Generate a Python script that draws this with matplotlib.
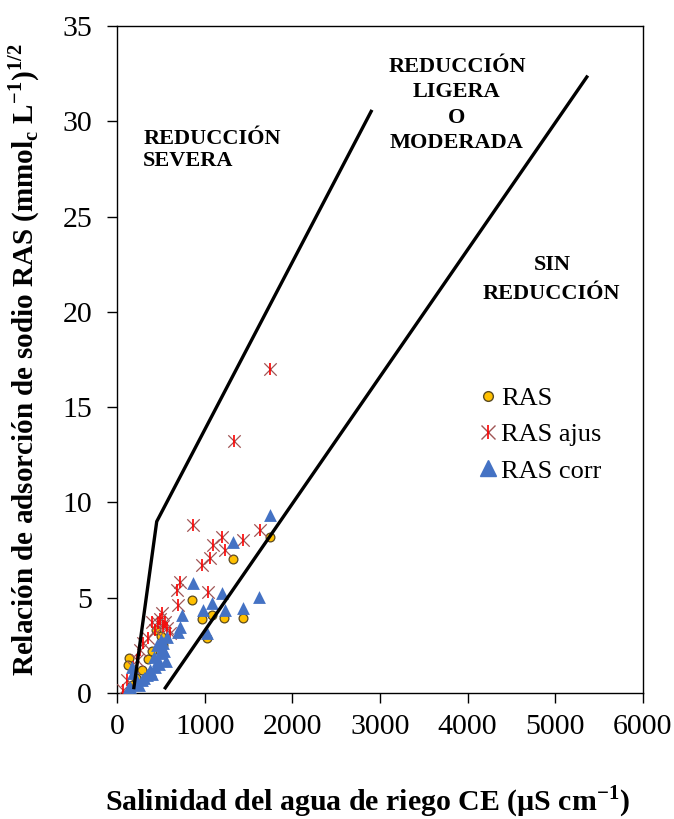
import matplotlib
matplotlib.use("Agg")
import matplotlib.pyplot as plt
from matplotlib.lines import Line2D

# ---------------------------------------------------------------------------
# Data
# ---------------------------------------------------------------------------

# RAS (circles)
ras_x = [141, 129, 170, 220, 280, 350, 400, 450, 500, 520,
         1745, 1327, 859, 966, 1080, 1220, 1433, 1030]
ras_y = [1.82, 1.47, 0.40, 0.80, 1.20, 1.80, 2.20, 3.30, 3.00, 2.50,
         8.20, 7.01, 4.88, 3.87, 4.09, 3.92, 3.92, 2.87]

# RAS ajustado (asterisks)
aj_x = [1745, 1335, 867, 1194, 1441, 1631, 1099, 1232, 1061, 966,
        719, 681, 700, 1041, 510, 396, 471, 547, 567, 604,
        300, 262, 225, 186, 110, 72, 430, 490, 520, 350]
aj_y = [17.0, 13.2, 8.80, 8.20, 8.03, 8.55, 7.77, 7.50, 7.07, 6.72,
        5.84, 5.40, 4.62, 5.32, 4.18, 3.74, 3.66, 3.74, 3.40, 3.15,
        2.60, 2.26, 1.73, 1.38, 0.68, 0.16, 3.30, 3.90, 3.50, 2.90]

# RAS corregido (triangles)
co_x = [1745, 1327, 1194, 870, 1080, 985, 1232, 1441, 1624, 1030,
        738, 719, 700, 567, 529, 510, 490, 471, 433, 376,
        338, 282, 224, 148, 110, 186, 167, 540, 500, 460,
        420, 560, 480, 400, 310, 250, 130]
co_y = [9.34, 7.94, 5.23, 5.75, 4.71, 4.36, 4.36, 4.44, 5.05, 3.13,
        4.09, 3.48, 3.22, 2.96, 2.61, 2.35, 2.08, 1.73, 1.38, 1.21,
        0.94, 0.68, 0.51, 0.33, 0.07, 1.03, 1.38, 2.20, 2.80, 2.50,
        1.90, 1.70, 1.50, 1.00, 0.80, 0.40, 0.20]

# Boundary lines
line1_x = [190, 453, 2908]
line1_y = [0.2, 9.0, 30.6]
line2_x = [540, 5370]
line2_y = [0.2, 32.4]

serif = ["Liberation Serif", "DejaVu Serif"]
plt.rcParams["font.family"] = serif
plt.rcParams["mathtext.fontset"] = "custom"
plt.rcParams["mathtext.rm"] = "Liberation Serif"
plt.rcParams["mathtext.bf"] = "Liberation Serif:bold"

fig = plt.figure(figsize=(6.74, 8.19), dpi=100)
ax = fig.add_axes([0.1736, 0.1538, 0.7804, 0.8144])

ax.plot(line1_x, line1_y, color="black", lw=2.4, solid_capstyle="butt", zorder=4)
ax.plot(line2_x, line2_y, color="black", lw=2.4, solid_capstyle="butt", zorder=4)

ax.scatter(ras_x, ras_y, s=40, marker="o", facecolor="#FFC000",
           edgecolor="#5a4a20", linewidth=0.9, zorder=3)
ax.scatter(aj_x, aj_y, s=80, marker="x", color="#a05555", linewidth=0.9, zorder=3)
ax.scatter(aj_x, aj_y, s=80, marker="|", color="#ff0000", linewidth=1.2, zorder=3)
ax.scatter(co_x, co_y, s=85, marker="^", color="#4472C4", linewidth=0, zorder=3)

ax.set_xlim(0, 6000)
ax.set_ylim(0, 35)
ax.set_xticks(range(0, 6001, 1000))
ax.set_yticks(range(0, 36, 5))
ax.tick_params(direction="out", length=7, width=1, labelsize=21.5)
ax.tick_params(axis="x", pad=8)
ax.tick_params(axis="y", pad=11)
for sp in ax.spines.values():
    sp.set_linewidth(1)

ax.set_xlabel(r"Salinidad del agua de riego CE (µS cm$^{\mathbf{-1}}$)",
              fontsize=21.5, fontweight="bold")
ax.xaxis.set_label_coords(0.477, -0.136)
ax.set_ylabel(r"Relación de adsorción de sodio RAS (mmol$_{\mathbf{c}}$ L$^{\mathbf{-1}}$)$^{\mathbf{1/2}}$",
              fontsize=21, fontweight="bold")
ax.yaxis.set_label_coords(-0.143, 0.50)

ax.text(300, 28.5, "REDUCCIÓN\nSEVERA", fontsize=16, fontweight="bold",
        ha="left", va="center", linespacing=1.15)
ax.text(3877, 30.85, "REDUCCIÓN\nLIGERA\nO\nMODERADA", fontsize=16,
        fontweight="bold", ha="center", va="center", linespacing=1.36)
ax.text(4960, 21.7, "SIN\nREDUCCIÓN", fontsize=16, fontweight="bold",
        ha="center", va="center", linespacing=1.62)

h1 = Line2D([], [], ls="none", marker="o", markersize=7, markerfacecolor="#FFC000",
            markeredgecolor="#5a4a20")
h2a = Line2D([], [], ls="none", marker="x", markersize=10, color="#a05555")
h2b = Line2D([], [], ls="none", marker="|", markersize=10, color="#ff0000",
             markeredgewidth=1.2)
h3 = Line2D([], [], ls="none", marker="^", markersize=11, color="#4472C4")
ax.legend([h1, (h2a, h2b), h3], ["RAS", "RAS ajus", "RAS corr"],
          loc="upper left", bbox_to_anchor=(0.662, 0.475), frameon=False,
          fontsize=19, handletextpad=0.05, handlelength=0.9, labelspacing=0.48,
          borderaxespad=0)

fig.savefig("out.png", dpi=100)
